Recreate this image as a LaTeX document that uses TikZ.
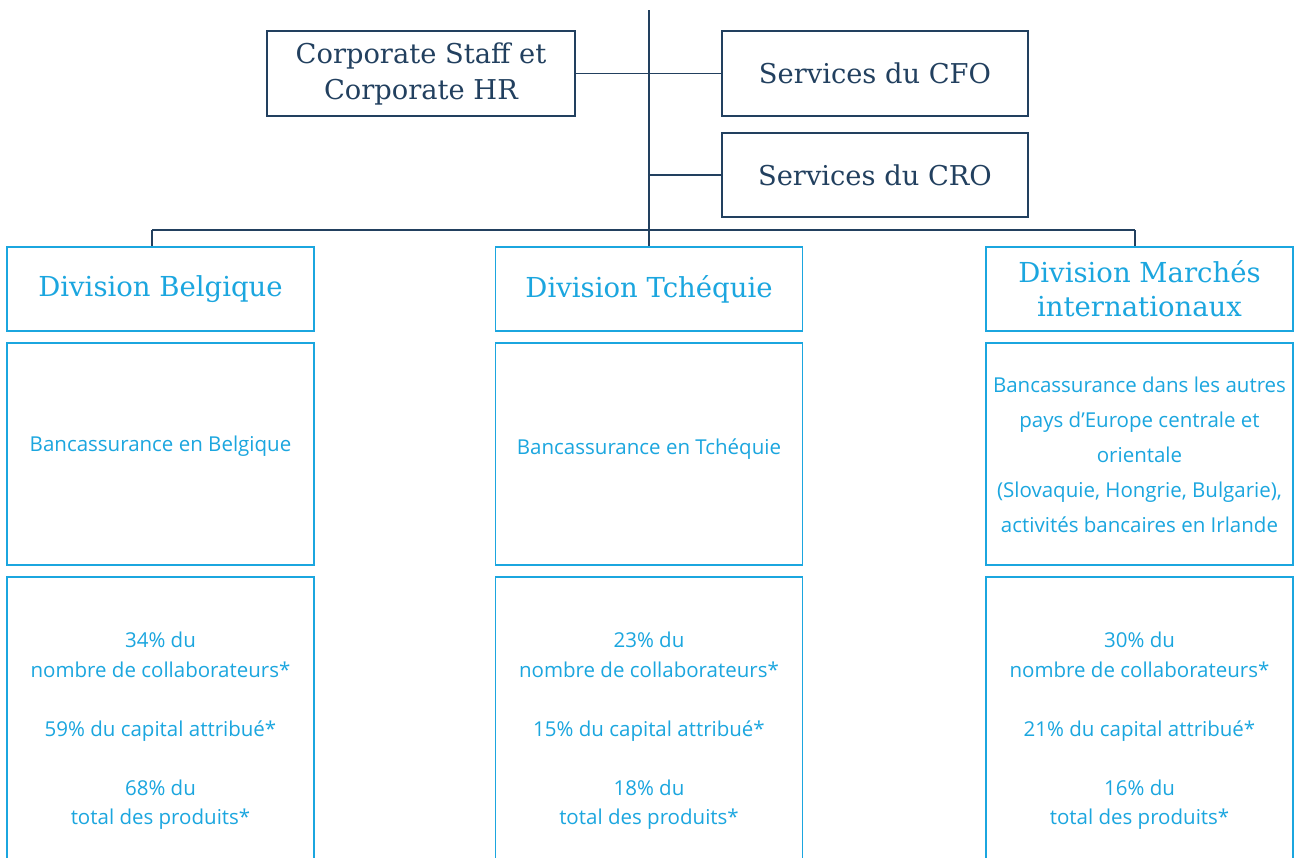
\documentclass[tikz,border=0pt]{standalone}
\usepackage{fontspec}
\setmainfont{Open Sans}
\newfontfamily\headfont{DejaVu Serif}
\definecolor{navy}{HTML}{22405F}
\definecolor{kbc}{HTML}{1BA6DF}
\begin{document}
\begin{tikzpicture}[x=1pt,y=-1pt,
  topbox/.style={draw=navy, line width=1.3pt, text=navy, rectangle, inner sep=0pt, align=center,
    font=\headfont\fontsize{27.3}{36}\selectfont},
  divbox/.style={draw=kbc, line width=1.3pt, text=kbc, rectangle, inner sep=0pt, align=center,
    font=\headfont\fontsize{27.5}{34}\selectfont, minimum width=307pt, minimum height=84pt},
  descbox/.style={draw=kbc, line width=1.3pt, text=kbc, rectangle, inner sep=0pt, align=center,
    font=\fontsize{20.5}{35}\selectfont, minimum width=307pt, minimum height=222pt},
  statbox/.style={draw=kbc, line width=1.3pt, text=kbc, rectangle, inner sep=0pt, align=center,
    font=\fontsize{20.5}{29.5}\selectfont, minimum width=307pt, minimum height=302pt},
  link/.style={draw=navy, line width=1.2pt}]
\useasboundingbox (0,0) rectangle (1298,857);
\fill[white] (0,0) rectangle (1298,857);
\clip (0,0) rectangle (1298,857);
% top
\node[topbox, minimum width=308pt, minimum height=85pt] (corp) at (421,73.5) {Corporate Staff et\\Corporate HR};
\node[topbox, minimum width=306pt, minimum height=85pt] (cfo) at (875,73.5) {Services du CFO};
\node[topbox, minimum width=306pt, minimum height=84pt] (cro) at (875,175) {Services du CRO};
\coordinate (top) at (649,10);
\coordinate (hub) at (649,230);
\coordinate (bL) at (152,230);
\coordinate (bR) at (1135,230);
% divisions
\node[divbox] (divB) at (160.5,289) {Division Belgique};
\node[divbox] (divT) at (649,289) {Division Tchéquie};
\node[divbox] (divM) at (1139.5,289) {Division Marchés\\internationaux};
\node[descbox] (descB) at (160.5,454) {Bancassurance en Belgique\\[-14pt]\mbox{}};
\node[descbox] (descT) at (649,454) {Bancassurance en Tchéquie\\[-20pt]\mbox{}};
\node[descbox] (descM) at (1139.5,454) {\mbox{}\\[-17pt]Bancassurance dans les autres\\pays d’Europe centrale et\\orientale\\(Slovaquie, Hongrie, Bulgarie),\\activités bancaires en Irlande};
\node[statbox] (statB) at (160.5,728) {\mbox{}\\[-8.5pt]34\% du\\nombre de collaborateurs*\\[29.5pt]59\% du capital attribué*\\[29.5pt]68\% du\\total des produits*};
\node[statbox] (statT) at (649,728) {\mbox{}\\[-8.5pt]23\% du\\nombre de collaborateurs*\\[29.5pt]15\% du capital attribué*\\[29.5pt]18\% du\\total des produits*};
\node[statbox] (statM) at (1139.5,728) {\mbox{}\\[-8.5pt]30\% du\\nombre de collaborateurs*\\[29.5pt]21\% du capital attribué*\\[29.5pt]16\% du\\total des produits*};
% connectors
\draw[link] (top) -- (hub) -- (divT.north);
\draw[link] (corp.east) -- (cfo.west);
\draw[link] (cro.west) -- (cro.west -| top);
\draw[link] (bL) -- (bR);
\draw[link] (bL) -- (bL |- divB.north);
\draw[link] (bR) -- (bR |- divM.north);
\end{tikzpicture}
\end{document}
